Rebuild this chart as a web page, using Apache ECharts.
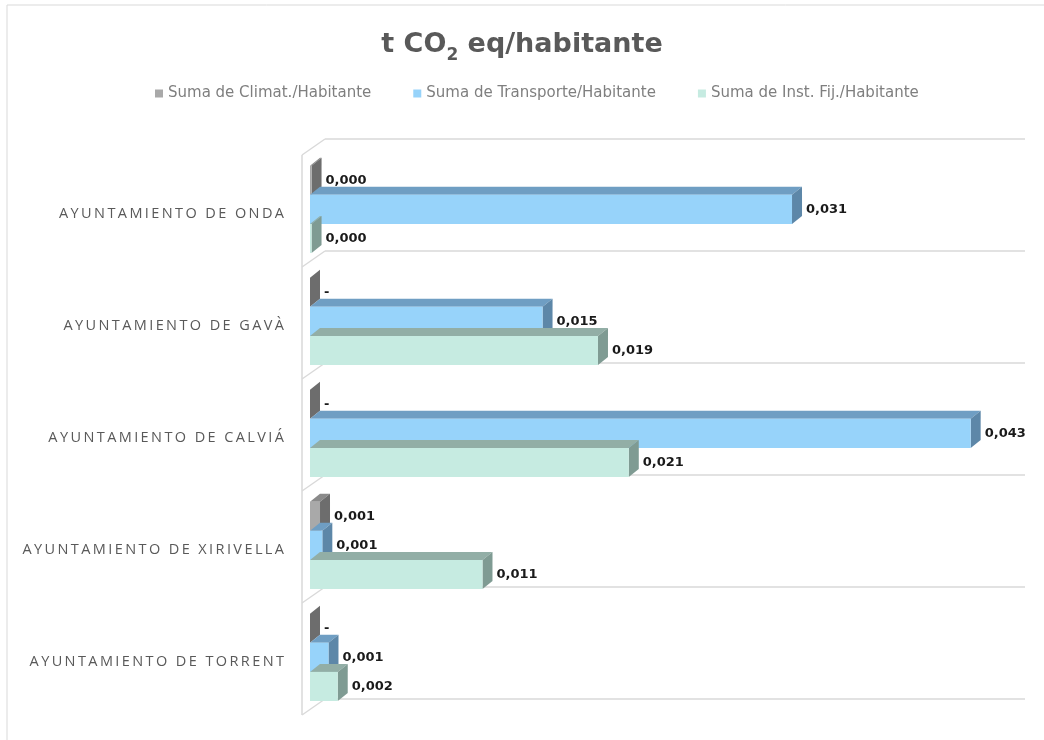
<!DOCTYPE html>
<html>
<head>
<meta charset="utf-8">
<title>t CO2 eq/habitante</title>
<script src="https://cdn.jsdelivr.net/npm/echarts@6/dist/echarts.min.js"></script>
<style>
  html, body { margin: 0; padding: 0; background: #fff; }
  #chart { width: 1044px; height: 740px; }
</style>
</head>
<body>
<div id="chart"></div>
<script>
var categories = ['AYUNTAMIENTO DE ONDA', 'AYUNTAMIENTO DE GAVÀ', 'AYUNTAMIENTO DE CALVIÁ', 'AYUNTAMIENTO DE XIRIVELLA', 'AYUNTAMIENTO DE TORRENT'];
var seriesNames = ['Suma de Climat./Habitante', 'Suma de Transporte/Habitante', 'Suma de Inst. Fij./Habitante'];
var climat = [0.0001, 0, 0, 0.00065, 0];
var transporte = [0.0313, 0.0151, 0.0429, 0.0008, 0.0012];
var instFij = [0.0001, 0.0187, 0.0207, 0.0112, 0.0018];

var chart = echarts.init(document.getElementById('chart'));

// front / top / side colours for each series
var palette = [
  { front: '#a9a9a9', top: '#8a8a8a', side: '#6d6d6d' },
  { front: '#97d3fa', top: '#6f9ec3', side: '#5d87a8' },
  { front: '#c6ebe1', top: '#92aea6', side: '#7f9b93' }
];
var dx = 10, dy = -8;

function fmt(v) {
  if (v === 0) return '-';
  return v.toFixed(3).replace('.', ',');
}

function spaced(s) {
  return s.split('').join('\u2009');
}

function bar3d(idx) {
  var c = palette[idx];
  return function (params, api) {
    var val = api.value(0), cat = api.value(1);
    var p0 = api.coord([0, cat]);
    var p1 = api.coord([val, cat]);
    var band = api.size([0, 1])[1];
    var h = band * 0.26;
    var bottom = p0[1] + band / 2 + 2 - (2 - idx) * h;
    var top = bottom - h;
    var x0 = p0[0], x1 = p1[0];
    return {
      type: 'group',
      children: [
        { type: 'polygon', shape: { points: [[x0, top], [x1, top], [x1 + dx, top + dy], [x0 + dx, top + dy]] }, style: { fill: c.top } },
        { type: 'polygon', shape: { points: [[x1, top], [x1 + dx, top + dy], [x1 + dx, bottom + dy], [x1, bottom]] }, style: { fill: c.side } },
        { type: 'rect', shape: { x: x0, y: top, width: x1 - x0, height: h }, style: { fill: c.front } },
        {
          type: 'text',
          x: x1 + dx + 4,
          y: (top + bottom) / 2,
          style: {
            text: fmt(val),
            fill: '#1a1a1a',
            font: 'bold 13px "DejaVu Sans", sans-serif',
            verticalAlign: 'middle',
            align: 'left'
          }
        }
      ]
    };
  };
}

function walls(params, api) {
  var cat = api.value(1);
  var p0 = api.coord([0, cat]);
  var band = api.size([0, 1])[1];
  var top = p0[1] - band / 2;
  var bottom = p0[1] + band / 2;
  var x0 = p0[0];
  var xr = params.coordSys.x + params.coordSys.width + 22;
  var ls = { stroke: '#d9d9d9', lineWidth: 1.5 };
  var children = [
    { type: 'line', shape: { x1: x0 + 15, y1: top, x2: xr, y2: top }, style: ls },
    { type: 'line', shape: { x1: x0 - 8, y1: top + 16, x2: x0 + 15, y2: top }, style: ls },
    { type: 'line', shape: { x1: x0 - 8, y1: top + 16, x2: x0 - 8, y2: bottom + 16 }, style: ls }
  ];
  if (cat === categories.length - 1) {
    children.push({ type: 'line', shape: { x1: x0 + 15, y1: bottom, x2: xr, y2: bottom }, style: ls });
    children.push({ type: 'line', shape: { x1: x0 - 8, y1: bottom + 16, x2: x0 + 15, y2: bottom }, style: ls });
  }
  return { type: 'group', children: children };
}

var allValues = [climat, transporte, instFij];

var series = [{
  type: 'custom',
  name: 'walls',
  silent: true,
  z: 1,
  renderItem: walls,
  encode: { x: 0, y: 1 },
  data: categories.map(function (c, i) { return [0, i]; })
}];
allValues.forEach(function (arr, idx) {
  series.push({
    type: 'custom',
    name: seriesNames[idx],
    z: 2,
    itemStyle: { color: palette[idx].front },
    renderItem: bar3d(idx),
    encode: { x: 0, y: 1 },
    data: arr.map(function (v, i) { return [v, i]; })
  });
});

var option = {
  backgroundColor: '#fff',
  animation: false,
  title: {
    text: '{a|t CO}{s|2}{a| eq/habitante}',
    left: 'center',
    top: 21,
    textStyle: {
      rich: {
        a: { fontFamily: 'DejaVu Sans', fontWeight: 'bold', fontSize: 27, color: '#595959', lineHeight: 38 },
        s: { fontFamily: 'DejaVu Sans', fontWeight: 'bold', fontSize: 17, color: '#595959', lineHeight: 38, verticalAlign: 'bottom' }
      }
    }
  },
  legend: {
    data: seriesNames,
    left: 150,
    top: 81,
    icon: 'rect',
    itemWidth: 8,
    itemHeight: 8,
    itemGap: 42,
    textStyle: { fontFamily: 'DejaVu Sans', fontSize: 15, color: '#7f7f7f' }
  },
  graphic: [{
    type: 'rect',
    shape: { x: 7, y: 5, width: 1100, height: 800 },
    style: { fill: 'none', stroke: '#d9d9d9', lineWidth: 1 },
    silent: true
  }],
  grid: { left: 310, right: 41, top: 139, bottom: 41 },
  xAxis: {
    type: 'value',
    min: 0,
    max: 0.045,
    show: false
  },
  yAxis: {
    type: 'category',
    inverse: true,
    data: categories,
    axisLine: { show: false },
    axisTick: { show: false },
    splitLine: { show: false },
    axisLabel: {
      margin: 26,
      verticalAlign: 'top',
      lineHeight: 38,
      fontFamily: 'Open Sans',
      fontSize: 14.5,
      color: '#595959',
      formatter: spaced
    }
  },
  series: series
};

chart.setOption(option);
</script>
</body>
</html>
